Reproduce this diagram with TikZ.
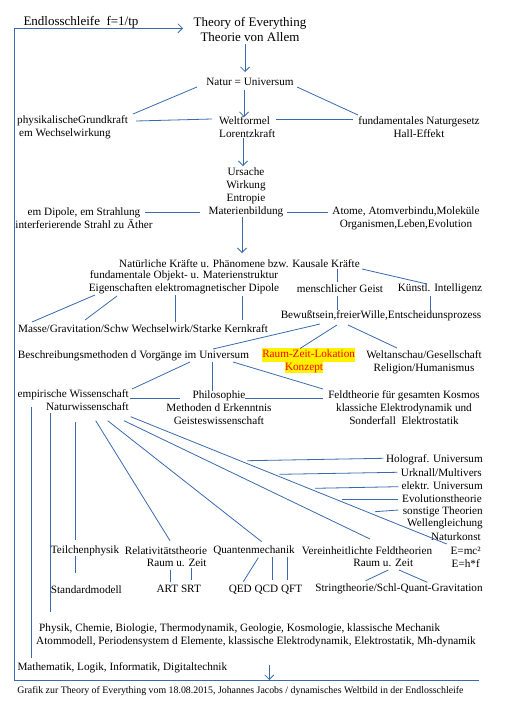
\documentclass[tikz,border=0pt]{standalone}
\usepackage{fontspec}
\usepackage{graphicx}
\setmainfont{Liberation Serif}
\usetikzlibrary{arrows.meta}
\definecolor{lc}{HTML}{3A6AAE}
\begin{document}
\begin{tikzpicture}[x=1pt,y=-1pt,
  tx/.style={inner sep=0pt, font=\fontsize{11.2}{13}\selectfont, align=center},
  big/.style={inner sep=0pt, font=\fontsize{13}{15}\selectfont, align=center},
  hl/.style={inner sep=0pt, font=\fontsize{11.2}{13}\selectfont, fill=yellow, text=red, text height=9.4pt, text depth=4pt},
  rt/.style={tx, anchor=east},
  ln/.style={draw=lc, line width=0.8pt},
  arr/.style={ln, -{Straight Barb[length=4.5pt,width=9pt]}},
]
\fill[white] (0,0) rectangle (505,707);
\useasboundingbox (0,0) rectangle (505,707);

% ---------- nodes ----------
\node[big] (endl) at (81,22) {Endlosschleife\ \ f=1/tp};
\node[big] (toe) at (250,29.5) {Theory of Everything\\Theorie von Allem};
\node[tx] (natur) at (250,82) {Natur = Universum};
\node[tx, align=left, anchor=west] (phys) at (17,127) {physikalischeGrundkraft\\\hspace*{2pt}em Wechselwirkung};
\node[tx, align=left, anchor=west] (welt) at (219,127) {Weltformel\\Lorentzkraft};
\node[tx] (fund) at (419,127) {fundamentales Naturgesetz\\Hall-Effekt};
\node[tx] (urs) at (246,192) {Ursache\\Wirkung\\Entropie\\Materienbildung};
\node[tx] (dip) at (84,218) {em Dipole, em Strahlung\\interferierende Strahl zu Äther};
\node[tx] (atome) at (406,218) {Atome, Atomverbindu,Moleküle\\Organismen,Leben,Evolution};
\node[tx] (nat) at (239.5,264) {Natürliche Kräfte u. Phänomene bzw. Kausale Kräfte};
\node[tx] (fob) at (184,282.5) {fundamentale Objekt- u. Materienstruktur\\Eigenschaften elektromagnetischer Dipole};
\node[tx] (geist) at (340,289) {menschlicher Geist};
\node[tx] (ki) at (440,289) {Künstl. Intelligenz};
\node[tx] (masse) at (143,329) {Masse/Gravitation/Schw Wechselwirk/Starke Kernkraft};
\node[tx] (bew) at (381,316) {Bewußtsein,freierWille,Entscheidunsprozess};
\node[tx] (besch) at (133.5,356) {Beschreibungsmethoden d Vorgänge im Universum};
\node[hl] (rzl) at (308.6,355) {Raum-Zeit-Lokation};
\node[hl, text height=8.5pt, text depth=3.1pt] (rzk) at (304,367.5) {Konzept};
\node[tx] (welta) at (424,362) {Weltanschau/Gesellschaft\\Religion/Humanismus};
\node[tx, align=right, anchor=east] (emp) at (129,400.5) {empirische Wissenschaft\\Naturwissenschaft};
\node[tx] (phil) at (219,407.5) {Philosophie\\Methoden d Erkenntnis\\Geisteswissenschaft};
\node[tx] (feld) at (404,407.5) {Feldtheorie für gesamten Kosmos\\klassiche Elektrodynamik und\\Sonderfall\ \ Elektrostatik};
\node[rt] (holo) at (483,459.3) {Holograf. Universum};
\node[rt] (urk) at (482,472.3) {Urknall/Multivers};
\node[rt] (elek) at (483,485.7) {elektr. Universum};
\node[rt] (evo) at (482,498.3) {Evolutionstheorie};
\node[rt] (sonst) at (483,511.7) {sonstige Theorien};
\node[rt] (well) at (483,524.3) {Wellengleichung};
\node[rt] (natk) at (481,536.7) {Naturkonst};
\node[rt] (emc) at (481,550.7) {E=mc²};
\node[rt] (ehf) at (480,563.3) {E=h*f};
\node[tx, anchor=west] (teil) at (50.7,550.7) {Teilchenphysik};
\node[tx] (rel) at (166,550.7) {Relativitätstheorie};
\node[tx] (relrz) at (176.7,563.3) {Raum u. Zeit};
\node[tx] (qm) at (254,550.7) {Quantenmechanik};
\node[tx] (ver) at (367,550.7) {Vereinheitlichte Feldtheorien};
\node[tx] (verrz) at (383.3,563.3) {Raum u. Zeit};
\node[tx, anchor=west] (std) at (50.7,589.3) {Standardmodell};
\node[tx] (artsrt) at (178.7,589.3) {ART SRT};
\node[tx] (qed) at (265.5,589.3) {QED QCD QFT};
\node[tx] (string) at (399,589.3) {Stringtheorie/Schl-Quant-Gravitation};
\node[tx, align=left, anchor=west] (phyk) at (36,635) {\hspace*{3pt}Physik, Chemie, Biologie, Thermodynamik, Geologie, Kosmologie, klassische Mechanik\\Atommodell, Periodensystem d Elemente, klassische Elektrodynamik, Elektrostatik, Mh-dynamik};
\node[tx, anchor=west] (math) at (17.3,667.3) {Mathematik, Logik, Informatik, Digitaltechnik};
\node[inner sep=0pt, anchor=west] (foot) at (17.3,690.7) {\resizebox{446pt}{7pt}{\fontsize{10}{12}\selectfont Grafik zur Theory of Everything vom 18.08.2015, Johannes Jacobs / dynamisches Weltbild in der Endlosschleife}};

% ---------- loop ----------
\coordinate (lt) at (14.3,28.3);
\coordinate (lb) at (14.3,680);
\coordinate (rb) at (479.3,680);
\coordinate (barr) at (269.3,665);
\draw[ln] (rb) -- (lb) -- (lt);
\draw[arr] (lt) -- ([shift={(-67,-1.2)}]toe.center);
\draw[arr] (barr) -- (barr |- rb);

% ---------- connectors ----------
\draw[arr] ([shift={(-5,14.5)}]toe.center) -- ([shift={(-5,-10)}]natur.center);
\draw[ln] ([shift={(-53,5)}]natur.center) -- ([shift={(116,-13)}]phys.west);
\draw[ln] ([shift={(47,5)}]natur.center) -- ([shift={(-61,-12)}]fund.center);
\draw[arr] ([shift={(-6,8)}]natur.center) -- ([shift={(25,-10)}]welt.west);
\draw[ln] ([shift={(119,-6)}]phys.west) -- ([shift={(-7,-8)}]welt.west);
\draw[ln] ([shift={(57,-8)}]welt.west) -- ([shift={(-66,-8)}]fund.center);
\draw[arr] ([shift={(24,11)}]welt.west) -- ([shift={(-3,-26)}]urs.center);
\draw[ln] ([shift={(61,-6)}]dip.center) -- ([shift={(-46,20)}]urs.center);
\draw[ln] ([shift={(41,20)}]urs.center) -- ([shift={(-78,-6)}]atome.center);
\draw[arr] ([shift={(-4,25)}]urs.center) -- ([shift={(2.5,-11)}]nat.center);

\draw[ln] ([shift={(97.5,5)}]nat.center) -- ([shift={(-3,-7)}]geist.center);
\draw[ln] ([shift={(-3,7)}]geist.center) -- ([shift={(-44,-6)}]bew.center);
\draw[ln] ([shift={(122.5,5)}]nat.center) -- ([shift={(-13,-5)}]ki.center);
\draw[ln] ([shift={(-10,7)}]ki.center) -- ([shift={(49,-6)}]bew.center);

\draw[ln] ([shift={(-89,12.5)}]fob.center) -- ([shift={(-111,-7)}]masse.center);
\draw[ln] ([shift={(-67,13.5)}]fob.center) -- ([shift={(-58,-9)}]masse.center);
\draw[ln] ([shift={(-9,12.5)}]fob.center) -- ([shift={(32,-7)}]masse.center);
\draw[ln] ([shift={(58,13.5)}]fob.center) -- ([shift={(99,-9)}]masse.center);

\draw[ln] ([shift={(-61,8)}]bew.center) -- ([shift={(79.5,-7)}]besch.center);
\draw[ln] ([shift={(-44,9)}]bew.center) -- ([shift={(-8.6,-6.5)}]rzl.center);
\draw[ln] ([shift={(-33,9)}]bew.center) -- ([shift={(-27,-14)}]welta.center);

\draw[ln] ([shift={(56.5,6)}]besch.center) -- ([shift={(3,-11.5)}]emp.east);
\draw[ln] ([shift={(78.5,6)}]besch.center) -- ([shift={(-7,-16.5)}]phil.center);
\draw[ln] ([shift={(99.5,6)}]besch.center) -- ([shift={(-81,-18.5)}]feld.center);
\draw[ln] ([shift={(1,-2.5)}]emp.east) -- ([shift={(-39,-9.5)}]phil.center);
\draw[ln] ([shift={(26,-9.5)}]phil.center) -- ([shift={(-81,-9.5)}]feld.center);

\draw[ln] ([shift={(-97.3,6.5)}]emp.east) -- ([shift={(14.4,-9.3)}]math.west);
\draw[ln] ([shift={(-78.3,12.5)}]emp.east) -- ([shift={(14.7,-23)}]phyk.west);
\draw[ln] ([shift={(-53.3,21.5)}]emp.east) -- ([shift={(25,-10.7)}]teil.west);
\draw[ln] ([shift={(25,5.3)}]teil.west) -- ([shift={(25,-16.3)}]std.west);

\draw[ln] ([shift={(-33.3,20.2)}]emp.east) -- ([shift={(4,-10)}]rel.center);
\draw[ln] ([shift={(-21.3,20.2)}]emp.east) -- ([shift={(7.7,-9)}]qm.center);
\draw[ln] ([shift={(-5,20.2)}]emp.east) -- ([shift={(3,-11.7)}]ver.center);
\draw[ln] ([shift={(1.7,16.2)}]emp.east) -- ([shift={(-34.3,-6.7)}]emc.east);

\draw[ln] ([shift={(-235.7,1.4)}]holo.east) -- ([shift={(-99.7,-1)}]holo.east);
\draw[ln] ([shift={(-202.7,2)}]urk.east) -- ([shift={(-84.7,0)}]urk.east);
\draw[ln] ([shift={(-168,2.6)}]elek.east) -- ([shift={(-84.7,1)}]elek.east);
\draw[ln] ([shift={(-139.7,0.7)}]evo.east) -- ([shift={(-83.7,0.7)}]evo.east);
\draw[ln] ([shift={(-108,0)}]sonst.east) -- ([shift={(-84.7,-1.7)}]sonst.east);

\draw[ln] ([shift={(-6,6.7)}]relrz.center) -- ([shift={(-8,-7.6)}]artsrt.center);
\draw[ln] ([shift={(15,5)}]relrz.center) -- ([shift={(13,-9.3)}]artsrt.center);
\draw[ln] ([shift={(4.3,7)}]qm.center) -- ([shift={(-22.2,-7.6)}]qed.center);
\draw[ln] ([shift={(18.7,6)}]qm.center) -- ([shift={(7.2,-9.3)}]qed.center);
\draw[ln] ([shift={(33.3,6)}]qm.center) -- ([shift={(21.8,-9.3)}]qed.center);
\draw[ln] ([shift={(5,6.7)}]verrz.center) -- ([shift={(-33.3,-8.6)}]string.center);
\draw[ln] ([shift={(15.7,6.7)}]verrz.center) -- ([shift={(28.3,-7)}]string.center);
\end{tikzpicture}
\end{document}
